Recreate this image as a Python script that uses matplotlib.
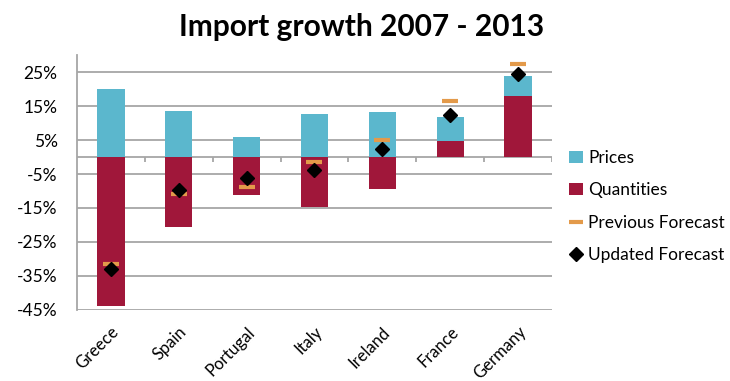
import matplotlib
matplotlib.use("Agg")
import matplotlib.pyplot as plt
from matplotlib.patches import Patch
from matplotlib.lines import Line2D
import numpy as np

plt.rcParams['font.family'] = ['Lato', 'DejaVu Sans']

countries = ["Greece", "Spain", "Portugal", "Italy", "Ireland", "France", "Germany"]
quantities = [-43.8, -20.5, -11.2, -14.8, -9.3, 4.6, 17.9]
prices = [20.1, 13.5, 5.9, 12.6, 13.3, 7.2, 5.8]
previous_forecast = [-31.5, -10.8, -8.7, -1.4, 5.1, 16.6, 27.5]
updated_forecast = [-32.8, -9.8, -6.1, -3.9, 2.5, 12.5, 24.5]
yticks = [-45, -35, -25, -15, -5, 5, 15, 25]

c_prices = "#5BB7CD"
c_quant = "#A0173A"
c_prev = "#E39A4A"
grid_c = "#A6A6A6"

fig = plt.figure(figsize=(7.30, 3.81), dpi=100)
ax = fig.add_axes([0.1055, 0.1864, 0.6505, 0.6692])

x = np.arange(len(countries))
q = np.array(quantities)
p = np.array(prices)
p_bottom = np.maximum(q, 0)

ax.bar(x, q, width=0.4, color=c_quant, zorder=2)
ax.bar(x, p, bottom=p_bottom, width=0.4, color=c_prices, zorder=2)
ax.plot(x, previous_forecast, linestyle="none", marker="_", markersize=11,
        markeredgewidth=3, color=c_prev, zorder=3)
ax.plot(x, updated_forecast, linestyle="none", marker="D", markersize=7,
        color="black", zorder=4)

ax.set_xlim(-0.5, len(countries) - 0.5)
ax.set_ylim(-45, 30)
ax.set_yticks(yticks)
ax.set_yticklabels([f"{v}%" for v in yticks], fontsize=12.5)
for v in yticks:
    ax.axhline(v, color=grid_c, linewidth=1.3, zorder=1)
# category axis at zero
ax.axhline(0, color=grid_c, linewidth=1.3, zorder=1.5)
bounds = np.arange(len(countries) + 1) - 0.5
ax.vlines(bounds[1:], -1.6, 0, color=grid_c, linewidth=1.3, zorder=1.5)

ax.set_xticks(x)
ax.set_xticklabels(countries, rotation=45, ha="right", rotation_mode="anchor",
                   fontsize=12)
ax.tick_params(axis="x", length=0, pad=10)
ax.tick_params(axis="y", length=0, pad=14)
for s in ["top", "right", "bottom"]:
    ax.spines[s].set_visible(False)
ax.spines["left"].set_color(grid_c)
ax.spines["left"].set_linewidth(1.3)

fig.text(0.495, 0.965, "Import growth 2007 - 2013", ha="center", va="top",
         fontsize=21.5, fontweight="bold")

handles = [
    Patch(facecolor=c_prices, edgecolor="none"),
    Patch(facecolor=c_quant, edgecolor="none"),
    Line2D([], [], linestyle="none", marker="_", markersize=10, markeredgewidth=3, color=c_prev),
    Line2D([], [], linestyle="none", marker="D", markersize=7, color="black"),
]
labels = ["Prices", "Quantities", "Previous Forecast", "Updated Forecast"]
fig.legend(handles, labels, loc="upper left", bbox_to_anchor=(0.77, 0.625),
           frameon=False, fontsize=12.5, handlelength=0.8, handletextpad=0.3,
           labelspacing=0.95, borderaxespad=0)

fig.savefig("out.png", dpi=100)
